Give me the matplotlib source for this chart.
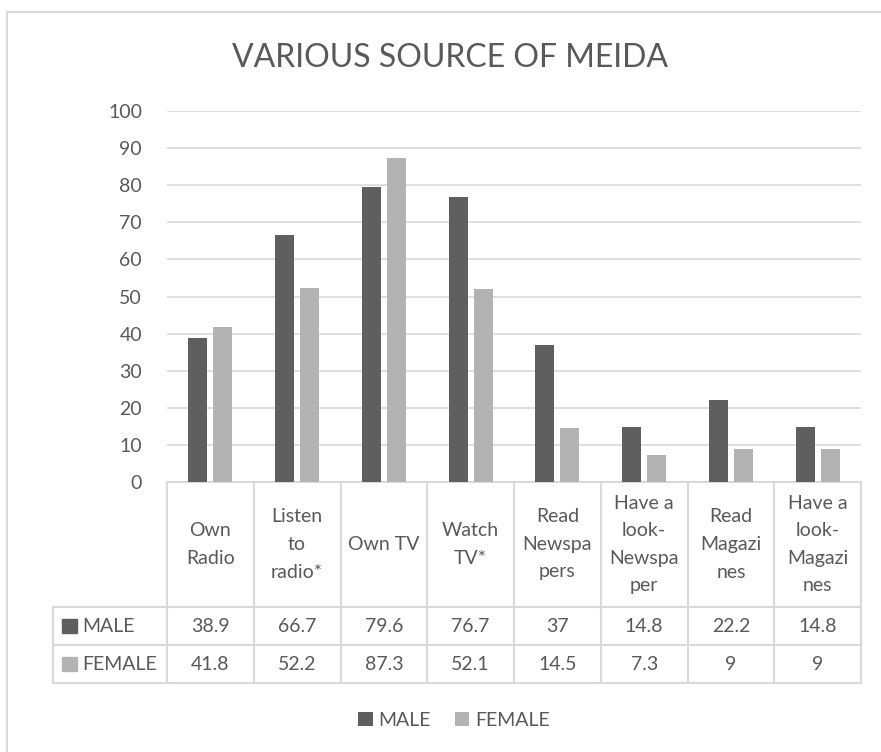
import matplotlib.pyplot as plt
import matplotlib.transforms as mtransforms
from matplotlib.patches import Rectangle
import numpy as np

# 데이터
categories = ['Own Radio', 'Listen to radio*', 'Own TV', 'Watch TV*', 'Read Newspapers',
              'Have a look-Newspaper', 'Read Magazines', 'Have a look-Magazines']
cat_labels = ['Own\nRadio', 'Listen\nto\nradio*', 'Own TV', 'Watch\nTV*', 'Read\nNewspa\npers',
              'Have a\nlook-\nNewspa\nper', 'Read\nMagazi\nnes', 'Have a\nlook-\nMagazi\nnes']
male = [38.9, 66.7, 79.6, 76.7, 37, 14.8, 22.2, 14.8]
female = [41.8, 52.2, 87.3, 52.1, 14.5, 7.3, 9, 9]
male_txt = ['38.9', '66.7', '79.6', '76.7', '37', '14.8', '22.2', '14.8']
female_txt = ['41.8', '52.2', '87.3', '52.1', '14.5', '7.3', '9', '9']

W, H = 881, 752
def fx(px):
    return px / W
def fy(py):
    return 1 - py / H

plt.rcParams['font.family'] = ['Lato', 'DejaVu Sans']
txt_color = '#595959'
line_color = '#d9d9d9'
c_male = '#5f5f5f'
c_female = '#b3b3b3'
fs = 14

fig = plt.figure(figsize=(W / 100, H / 100), dpi=100)
ax = fig.add_axes([fx(167), fy(482), fx(861) - fx(167), fy(111) - fy(482)])

x = np.arange(len(categories))
b1 = ax.bar(x - 0.145, male, width=0.22, color=c_male, label='MALE', zorder=3)
b2 = ax.bar(x + 0.145, female, width=0.22, color=c_female, label='FEMALE', zorder=3)

ax.set_xlim(-0.5, 7.5)
ax.set_ylim(0, 100)
ax.set_yticks(range(0, 101, 10))
ax.yaxis.grid(True, color=line_color, linewidth=1.2)
ax.set_axisbelow(True)
ax.tick_params(axis='y', length=0, pad=18, labelsize=fs, labelcolor=txt_color)
ax.set_xticks([])
for s in ['top', 'right', 'left']:
    ax.spines[s].set_visible(False)
ax.spines['bottom'].set_color(line_color)
ax.spines['bottom'].set_linewidth(1.5)

# 제목
fig.text(fx(450), fy(67), 'VARIOUS SOURCE OF MEIDA', ha='center', va='baseline',
         fontsize=23, color=txt_color)

# 데이터 테이블
tr = mtransforms.blended_transform_factory(ax.transData, fig.transFigure)
y_top, y_r1, y_r2, y_bot = 482, 607, 645, 683
for i in range(len(categories) + 1):
    ax.plot([i - 0.5, i - 0.5], [fy(y_top), fy(y_bot)], transform=tr, color=line_color,
            linewidth=1.5, clip_on=False)
for yy in [y_r1, y_r2, y_bot]:
    fig.add_artist(plt.Line2D([fx(53), fx(861)], [fy(yy), fy(yy)], color=line_color, linewidth=1.5))
fig.add_artist(plt.Line2D([fx(53), fx(53)], [fy(y_r1), fy(y_bot)], color=line_color, linewidth=1.5))

for i in range(len(categories)):
    ax.text(i, fy((y_top + y_r1) / 2), cat_labels[i], transform=tr, ha='center', va='center',
            fontsize=fs, color=txt_color, linespacing=1.75)
    ax.text(i, fy((y_r1 + y_r2) / 2), male_txt[i], transform=tr, ha='center', va='center',
            fontsize=fs, color=txt_color)
    ax.text(i, fy((y_r2 + y_bot) / 2), female_txt[i], transform=tr, ha='center', va='center',
            fontsize=fs, color=txt_color)

# 행 이름
for yy, name, c in [((y_r1 + y_r2) / 2, 'MALE', c_male), ((y_r2 + y_bot) / 2, 'FEMALE', c_female)]:
    fig.add_artist(Rectangle((fx(62), fy(yy + 7)), fx(15), fy(yy - 7) - fy(yy + 7), color=c))
    fig.text(fx(82), fy(yy), name, ha='left', va='center', fontsize=fs, color=txt_color)

# 범례
fig.legend(handles=[b1, b2], loc='center', bbox_to_anchor=(fx(454), fy(720)), ncol=2, frameon=False,
           fontsize=fs, labelcolor=txt_color, handlelength=0.75, handleheight=0.75,
           handletextpad=0.3, columnspacing=1.2)

# 바깥 테두리 (왼쪽, 위쪽만 보임)
fig.add_artist(plt.Line2D([fx(7), 1], [fy(12), fy(12)], color=line_color, linewidth=1.5))
fig.add_artist(plt.Line2D([fx(7), fx(7)], [fy(12), 0], color=line_color, linewidth=1.5))

plt.savefig('out.png', dpi=100)
